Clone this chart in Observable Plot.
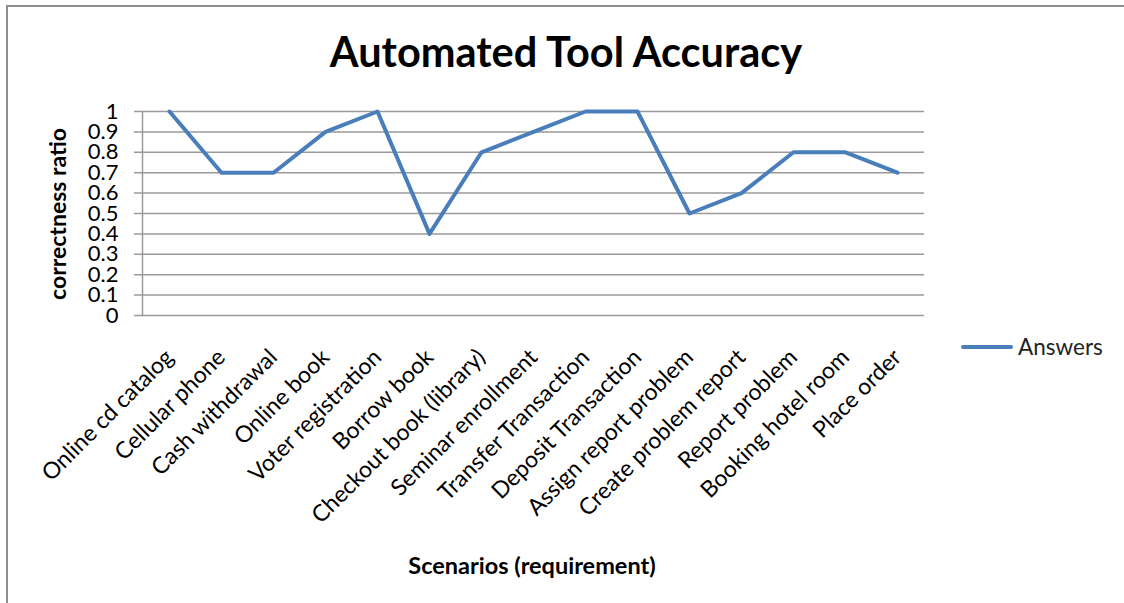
<!DOCTYPE html>
<html>
<head>
<meta charset="utf-8">
<script src="https://cdn.jsdelivr.net/npm/d3@7"></script>
<script src="https://cdn.jsdelivr.net/npm/@observablehq/plot@0.6"></script>
<style>
  html, body { margin: 0; padding: 0; background: #fff; }
  #wrap { position: relative; width: 1124px; height: 603px; overflow: hidden; font-family: Lato, "Open Sans", sans-serif; }
  #border { position: absolute; left: 6px; top: 5px; width: 1200px; height: 700px; border-left: 2px solid #8d8d8d; border-top: 2px solid #8d8d8d; }
  #chart { position: absolute; left: 0; top: 0; }
  .title { position: absolute; left: 0; width: 1132px; top: 27px; text-align: center; font-weight: bold; font-size: 41.5px; line-height: 1.2; color: #000; }
  .ytitle { position: absolute; left: 57px; top: 214px; transform: translate(-50%, -50%) rotate(-90deg); font-weight: bold; font-size: 23px; white-space: nowrap; color: #000; }
  .xtitle { position: absolute; left: 532px; top: 565px; transform: translate(-50%, -50%); font-weight: bold; font-size: 23.5px; white-space: nowrap; color: #000; }
  .legend { position: absolute; left: 961px; top: 333px; display: flex; align-items: center; font-size: 22.5px; color: #222; }
  .legend .sw { width: 52px; height: 4px; background: #4a7ebb; margin-right: 5px; border-radius: 2px; }
</style>
</head>
<body>
<div id="wrap">
  <div id="border"></div>
  <div id="chart"></div>
  <div class="title">Automated Tool Accuracy</div>
  <div class="ytitle">correctness ratio</div>
  <div class="xtitle">Scenarios (requirement)</div>
  <div class="legend"><div class="sw"></div><span id="legendLabel"></span></div>
</div>
<script>
const scenarios = [
  "Online cd catalog", "Cellular phone", "Cash withdrawal", "Online book",
  "Voter registration", "Borrow book", "Checkout book (library)", "Seminar enrollment",
  "Transfer Transaction", "Deposit Transaction", "Assign report problem",
  "Create problem report", "Report problem", "Booking hotel room", "Place order"
];
const answers = [1, 0.7, 0.7, 0.9, 1, 0.4, 0.8, 0.9, 1, 1, 0.5, 0.6, 0.8, 0.8, 0.7];
const seriesName = "Answers";
const yTicks = [0, 0.1, 0.2, 0.3, 0.4, 0.5, 0.6, 0.7, 0.8, 0.9, 1];

const data = scenarios.map((s, i) => ({scenario: s, value: answers[i]}));
document.getElementById("legendLabel").textContent = seriesName;

const chart = Plot.plot({
  width: 1124,
  height: 603,
  marginLeft: 142,
  marginRight: 200,
  marginTop: 111,
  marginBottom: 288,
  style: {fontFamily: "Lato, 'Open Sans', sans-serif", fontSize: "22px", color: "#000", background: "transparent", overflow: "visible"},
  x: {type: "point", domain: scenarios, padding: 0.5, axis: null},
  y: {domain: [0, 1], axis: null},
  marks: [
    Plot.ruleY(yTicks, {stroke: "#9a9a9a", strokeWidth: 1.5, insetLeft: -8}),
    Plot.frame({anchor: "left", stroke: "#9a9a9a", strokeWidth: 1.5}),
    Plot.axisY({ticks: yTicks, tickSize: 0, tickPadding: 24, tickFormat: d => String(d), fontSize: 22, label: null}),
    Plot.axisX({tickSize: 0, tickRotate: -45, tickPadding: 38, fontSize: 23, label: null}),
    Plot.line(data, {x: "scenario", y: "value", stroke: "#4a7ebb", strokeWidth: 4, strokeLinejoin: "round", strokeLinecap: "round"})
  ]
});
document.getElementById("chart").appendChild(chart);
</script>
</body>
</html>
